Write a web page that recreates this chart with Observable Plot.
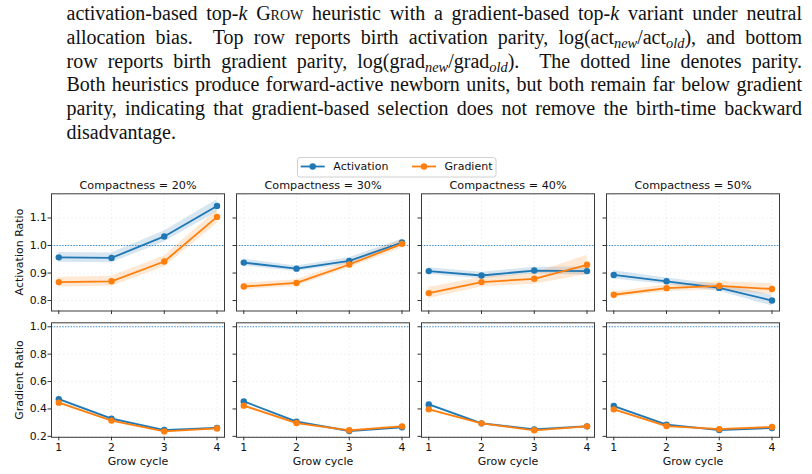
<!DOCTYPE html>
<html><head><meta charset="utf-8">
<script src="https://cdn.jsdelivr.net/npm/d3@7"></script>
<script src="https://cdn.jsdelivr.net/npm/@observablehq/plot@0.6"></script>
<style>
body{margin:0;background:#fff;}
#wrap{position:relative;width:812px;height:474px;overflow:hidden;background:#fff;}
#caption{position:absolute;left:66.5px;top:2px;width:735.5px;font-family:"Liberation Serif",serif;font-size:20px;line-height:23.8px;color:#111;}
.ln{text-align:justify;text-align-last:justify;}
.ln.last{text-align-last:left;}
.sc{font-variant:small-caps;}
sub{font-size:0.72em;line-height:0;vertical-align:-0.28em;font-style:italic;}
#top,#bottom{position:absolute;left:0;}
#top{top:160px;}
#bottom{top:315px;}
#legend{position:absolute;left:297px;top:157px;}
.ylab{position:absolute;font-family:"DejaVu Sans",sans-serif;font-size:11px;color:#111;white-space:nowrap;transform:translate(-50%,-50%) rotate(-90deg);line-height:1;}
</style>
</head><body>
<div id="wrap">
  <div id="caption">
    <div class="ln">activation-based top-<i>k</i> <span class="sc">Grow</span> heuristic with a gradient-based top-<i>k</i> variant under neutral</div>
    <div class="ln">allocation bias.&nbsp; Top row reports birth activation parity, log(act<sub>new</sub>/act<sub>old</sub>), and bottom</div>
    <div class="ln">row reports birth gradient parity, log(grad<sub>new</sub>/grad<sub>old</sub>).&nbsp; The dotted line denotes parity.</div>
    <div class="ln">Both heuristics produce forward-active newborn units, but both remain far below gradient</div>
    <div class="ln">parity, indicating that gradient-based selection does not remove the birth-time backward</div>
    <div class="ln last">disadvantage.</div>
  </div>
  <div id="top"></div>
  <div id="bottom"></div>
  <div id="legend"></div>
  <div class="ylab" id="ylabTop" style="left:19px;top:252px;"></div>
  <div class="ylab" id="ylabBottom" style="left:19px;top:379.5px;"></div>
</div>
<script>
// ---- data ----
const compactness = ["20%", "30%", "40%", "50%"];
const cycles = [1, 2, 3, 4];
const seriesNames = ["Activation", "Gradient"];
const seriesColors = ["#1f77b4", "#ff7f0e"];
const topTicks = [0.8, 0.9, 1.0, 1.1];
const bottomTicks = [0.2, 0.4, 0.6, 0.8, 1.0];
const yLabels = ["Activation Ratio", "Gradient Ratio"];
const xLabel = "Grow cycle";

// Activation Ratio (top row); one list per compactness level, values per grow cycle
const actRatioActivation = [[0.957, 0.955, 1.033, 1.144], [0.938, 0.916, 0.944, 1.011], [0.907, 0.891, 0.909, 0.907], [0.893, 0.870, 0.846, 0.800]];
const actRatioGradient   = [[0.867, 0.870, 0.942, 1.104], [0.851, 0.864, 0.931, 1.006], [0.827, 0.867, 0.879, 0.930], [0.821, 0.845, 0.853, 0.842]];
const actBandActivation  = [[0.018, 0.018, 0.020, 0.022], [0.012, 0.010, 0.012, 0.012], [0.012, 0.012, 0.012, 0.015], [0.015, 0.012, 0.012, 0.020]];
const actBandGradient    = [[0.018, 0.018, 0.020, 0.025], [0.012, 0.012, 0.012, 0.015], [0.020, 0.018, 0.020, 0.035], [0.010, 0.012, 0.015, 0.020]];

// Gradient Ratio (bottom row)
const gradRatioActivation = [[0.472, 0.329, 0.246, 0.261], [0.455, 0.307, 0.239, 0.266], [0.433, 0.295, 0.251, 0.273], [0.421, 0.285, 0.246, 0.261]];
const gradRatioGradient   = [[0.446, 0.315, 0.236, 0.258], [0.424, 0.297, 0.244, 0.273], [0.397, 0.295, 0.244, 0.273], [0.397, 0.275, 0.253, 0.268]];
const gradBandActivation  = [[0.008, 0.007, 0.006, 0.006], [0.008, 0.007, 0.006, 0.006], [0.008, 0.006, 0.006, 0.006], [0.008, 0.006, 0.006, 0.008]];
const gradBandGradient    = [[0.008, 0.007, 0.006, 0.006], [0.008, 0.007, 0.006, 0.008], [0.008, 0.006, 0.006, 0.006], [0.008, 0.006, 0.006, 0.008]];

function buildRows(values, bands) {
  const out = [];
  seriesNames.forEach((s, k) => {
    compactness.forEach((c, i) => {
      cycles.forEach((cy, j) => {
        const v = values[k][i][j], b = bands[k][i][j];
        out.push({series: s, comp: c, cycle: cy, value: v, lo: v - b, hi: v + b});
      });
    });
  });
  return out;
}

const topRows = buildRows([actRatioActivation, actRatioGradient], [actBandActivation, actBandGradient]);
const bottomRows = buildRows([gradRatioActivation, gradRatioGradient], [gradBandActivation, gradBandGradient]);

const FONT = "DejaVu Sans";
const INK = "#111";
const X_DOMAIN = [0.862, 4.142];
const X_MID = (X_DOMAIN[0] + X_DOMAIN[1]) / 2;

function seriesMarks(rows) {
  const m = [];
  seriesNames.forEach(s => {
    const d = rows.filter(r => r.series === s);
    m.push(Plot.areaY(d, {x: "cycle", y1: "lo", y2: "hi", fx: "comp", fill: "series", fillOpacity: 0.18}));
  });
  seriesNames.forEach(s => {
    const d = rows.filter(r => r.series === s);
    m.push(Plot.line(d, {x: "cycle", y: "value", fx: "comp", stroke: "series", strokeWidth: 1.8}));
    m.push(Plot.dot(d, {x: "cycle", y: "value", fx: "comp", fill: "series", r: 3.2}));
  });
  return m;
}

function panelRow({rows, yDomain, yTicks, height, marginTop, marginBottom, isTop}) {
  return Plot.plot({
    width: 812, height, marginLeft: 50, marginRight: 31.5, marginTop, marginBottom,
    style: {fontFamily: FONT, fontSize: "10.8px", color: INK, background: "transparent", overflow: "visible"},
    x: {domain: X_DOMAIN},
    y: {domain: yDomain, label: null},
    fx: {domain: compactness, paddingInner: 0.065, paddingOuter: 0, axis: null, label: null},
    color: {domain: seriesNames, range: seriesColors},
    marks: [
      Plot.gridX(cycles, {stroke: "#999", strokeOpacity: 0.2, strokeDasharray: "1.5,2.5", strokeWidth: 0.8}),
      Plot.gridY(yTicks, {stroke: "#999", strokeOpacity: 0.2, strokeDasharray: "1.5,2.5", strokeWidth: 0.8}),
      Plot.ruleY([1], {stroke: "#3a8ad0", strokeDasharray: "1.4,1.4", strokeWidth: 1.1}),
      ...seriesMarks(rows),
      Plot.frame({stroke: "#3a3a3a", strokeWidth: 1}),
      Plot.axisY(yTicks, {tickSize: 3.5, tickFormat: () => "", facetAnchor: null, label: null, stroke: "#333"}),
      Plot.axisY(yTicks, {tickSize: 0, tickPadding: 4.6, tickFormat: d => d.toFixed(1), label: null, fill: INK, fontSize: 10.8}),
      Plot.axisX(cycles, {tickSize: 3.5, tickPadding: 2.7, tickFormat: isTop ? (() => "") : (d => String(d)), label: null, stroke: "#333", fill: INK, fontSize: 10.8}),
      isTop
        ? Plot.text(compactness, {fx: d => d, x: () => X_MID, y: () => yDomain[1], text: d => `Compactness = ${d}`, textAnchor: "middle", dy: -8.3, fontSize: 11.2, fill: INK})
        : Plot.text(compactness, {fx: d => d, x: () => X_MID, y: () => yDomain[0], text: () => xLabel, textAnchor: "middle", dy: 24.2, fontSize: 11, fill: INK})
    ]
  });
}

document.getElementById("top").append(panelRow({
  rows: topRows, yDomain: [0.762, 1.188], yTicks: topTicks,
  height: 155, marginTop: 33.3, marginBottom: 4.5, isTop: true
}));
document.getElementById("bottom").append(panelRow({
  rows: bottomRows, yDomain: [0.193, 1.029], yTicks: bottomTicks,
  height: 159, marginTop: 7.3, marginBottom: 37.2, isTop: false
}));
document.getElementById("ylabTop").textContent = yLabels[0];
document.getElementById("ylabBottom").textContent = yLabels[1];

// legend
const lg = d3.select("#legend").append("svg").attr("width", 200).attr("height", 21)
  .style("font-family", FONT).style("font-size", "11px");
lg.append("rect").attr("x", 0.5).attr("y", 0.5).attr("width", 198.5).attr("height", 19.5).attr("rx", 2.5)
  .attr("fill", "#fff").attr("stroke", "#d0d0d0");
const legendItems = [{name: seriesNames[0], color: seriesColors[0], x0: 3.7}, {name: seriesNames[1], color: seriesColors[1], x0: 115}];
legendItems.forEach(it => {
  lg.append("line").attr("x1", it.x0).attr("x2", it.x0 + 24).attr("y1", 9.5).attr("y2", 9.5)
    .attr("stroke", it.color).attr("stroke-width", 1.8);
  lg.append("circle").attr("cx", it.x0 + 12).attr("cy", 9.5).attr("r", 3.2).attr("fill", it.color);
  lg.append("text").attr("x", it.x0 + 32.6).attr("y", 9.5).attr("dy", "0.35em").attr("fill", INK).text(it.name);
});
</script>
</body></html>
